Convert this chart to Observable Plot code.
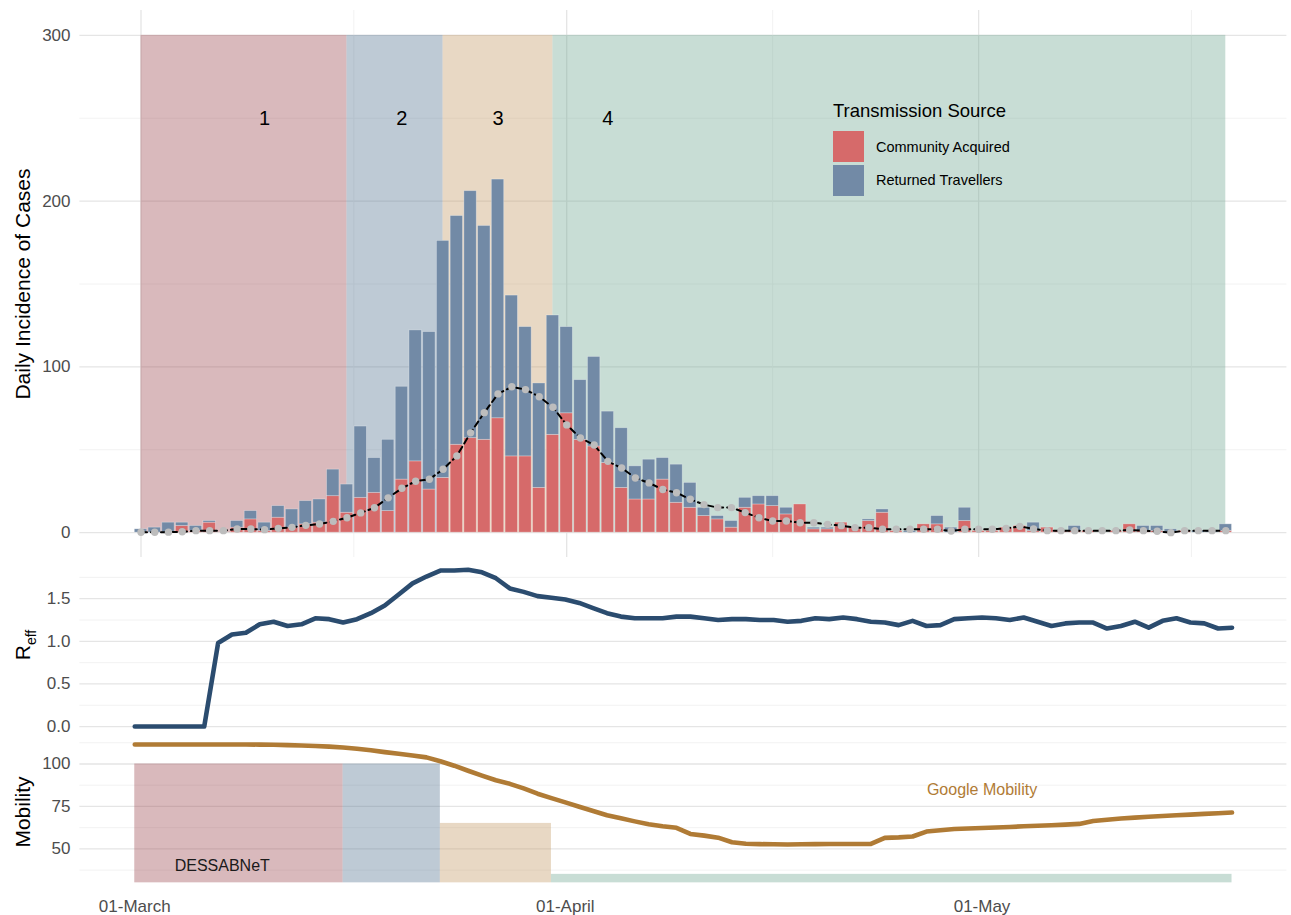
<!DOCTYPE html>
<html>
<head>
<meta charset="utf-8">
<script src="https://cdn.jsdelivr.net/npm/d3@7"></script>
<script src="https://cdn.jsdelivr.net/npm/@observablehq/plot@0.6"></script>
<style>
  html, body { margin: 0; padding: 0; background: #fff; }
  #wrap { position: relative; width: 1291px; height: 915px; font-family: "Liberation Sans", Arial, sans-serif; overflow: hidden; }
  .panel { position: absolute; left: 0; }
  .ytitle { position: absolute; transform: translate(-50%, -50%) rotate(-90deg); white-space: nowrap; color: #000; font-size: 21px; }
  .ytitle sub { font-size: 14px; }
  #legend { position: absolute; left: 833px; top: 100px; color: #000; }
  #legend .lt { font-size: 18.5px; margin-bottom: 8px; white-space: nowrap; }
  #legend .row { display: flex; align-items: center; height: 33.5px; }
  #legend .sw { width: 31px; height: 31px; margin-right: 12px; }
  #legend .lab { font-size: 14.5px; white-space: nowrap; }
</style>
</head>
<body>
<div id="wrap"></div>
<script>
// ---------------- data ----------------
const sources = ["Community Acquired", "Returned Travellers"];
const sourceColors = ["#D66A6A", "#728AA6"];

// daily cases, index 0 = 01-March
const communityAcquired = [0,0,0,4,1,6,0,3,8,1, 9,3,5,6,22,12,21,24,13,32, 43,26,33,53,57,56,69,46,46,27, 59,72,56,52,42,27,20,20,32,18, 15,10,8,3,15,17,16,11,17,2, 2,6,3,7,12,1,0,5,5,0, 7,1,1,3,4,1,3,1,1,1, 0,1,5,1,1,0,1,0,0,1];
const returnedTravellers = [2,3,6,2,3,1,0,4,5,5, 7,11,14,14,16,17,43,21,43,56, 79,95,143,138,149,129,144,97,78,63, 72,52,36,54,31,36,20,24,13,23, 15,5,2,4,6,5,6,4,0,1, 1,0,0,1,2,0,1,0,5,3, 8,0,0,0,0,5,0,0,3,0, 0,0,0,3,3,2,0,1,1,4];
const communityTrend = [0.2,0.2,0.3,0.5,1.2,1.2,1.2,2.2,2.2,1.8, 2.6,3.2,4.4,5.2,6.8,9,11.9,15,21,26.8, 31,32.2,38.2,46.3,60.2,72.4,83.7,88,86.3,82, 75.6,65,57.1,52.9,43,39,33,30,26,24.1, 20.1,16.9,15.1,15.1,12.1,9,7,7,6,6, 5,4.2,3,3,2,2,2,2,2,1, 2,2,2,2.5,3.8,2.2,1.2,1.2,1.2,1.2, 1.2,1.2,1.6,1.2,0.8,0,1.2,1.2,1.2,1.2];
const reff = [0,0,0,0,0,0,0.98,1.08,1.10,1.20, 1.23,1.18,1.20,1.27,1.26,1.22,1.26,1.33,1.42,1.55, 1.68,1.76,1.83,1.83,1.84,1.81,1.74,1.62,1.58,1.53, 1.51,1.49,1.45,1.39,1.33,1.29,1.27,1.27,1.27,1.29, 1.29,1.27,1.25,1.26,1.26,1.25,1.25,1.23,1.24,1.27, 1.26,1.28,1.26,1.23,1.22,1.19,1.24,1.18,1.19,1.26, 1.27,1.28,1.27,1.25,1.28,1.23,1.18,1.21,1.22,1.22, 1.15,1.18,1.23,1.16,1.24,1.27,1.22,1.21,1.15,1.16];
const googleMobility = [111.5,111.5,111.5,111.5,111.5,111.5,111.5,111.5,111.5,111.4, 111.3,111.1,110.9,110.6,110.2,109.7,109.0,108.1,107.0,106.0, 105.0,103.9,101.6,99.0,96.0,93.1,90.4,88.3,85.6,82.5, 79.9,77.4,74.8,72.3,69.8,68.0,66.2,64.5,63.3,62.4, 58.8,57.8,56.6,53.9,53.0,52.8,52.7,52.6,52.7,52.8, 52.9,52.9,52.9,52.9,56.5,56.8,57.3,60.2,61.0,61.7, 62.0,62.3,62.6,62.9,63.3,63.6,63.9,64.3,64.7,66.4, 67.2,67.9,68.4,68.9,69.4,69.8,70.2,70.6,71.0,71.4];

// phases (day index)
const phaseLabels = ["1", "2", "3", "4"];
const phaseStart = [0, 15, 22, 30];
const phaseEnd = [15, 22, 30, 79];
const phaseLabelDay = [9, 19, 26, 34];
const phaseColors = ["#A05058", "#5D7A96", "#C59E6B", "#76AA96"];
const phaseTop = 300;
const phaseLabelY = 250;
const dessabnetLevel = [100, 100, 65, 35];
const dessabnetBase = 30;

// ticks
const xTickDays = [0, 31, 61];
const xTickLabels = ["01-March", "01-April", "01-May"];
const xMinorDays = [15.5, 46, 76.5];
const incidenceTicks = [0, 100, 200, 300];
const incidenceMinor = [50, 150, 250];
const reffTicks = [0, 0.5, 1, 1.5];
const reffMinor = [0.25, 0.75, 1.25, 1.75];
const mobilityTicks = [50, 75, 100];
const mobilityMinor = [37.5, 62.5, 87.5, 112.5];

// annotations
const annoText = ["Google Mobility", "DESSABNeT"];
const annoDay = [61, 6.3];
const annoValue = [84.5, 40];
const annoColor = ["#B07B35", "#1a1a1a"];

// ---------------- build ----------------
const days = d3.range(communityAcquired.length);
const bars = days.map(d => ({
  day: d,
  c: communityAcquired[d],
  t: communityAcquired[d] + returnedTravellers[d]
}));
const trend = days.map(d => ({day: d, v: communityTrend[d]}));
const reffData = days.map(d => ({day: d, v: reff[d]}));
const mobData = days.map(d => ({day: d, v: googleMobility[d]}));
const phases = phaseLabels.map((l, i) => ({
  label: l, start: phaseStart[i], end: phaseEnd[i], lab: phaseLabelDay[i],
  color: phaseColors[i], level: dessabnetLevel[i]
}));

const W = 1291, ML = 79.4, MR = 4.6;
const FONT = '"Liberation Sans", Arial, sans-serif';
const majorGrid = {stroke: "#E5E5E5", strokeWidth: 1.3};
const minorGrid = {stroke: "#EFEFEF", strokeWidth: 0.8};
const baseStyle = {fontFamily: FONT, fontSize: "17px", color: "#4D4D4D", background: "transparent", overflow: "visible"};

const wrap = document.getElementById("wrap");

// ---- top panel: daily incidence ----
const topPlot = Plot.plot({
  width: W, height: 558, marginTop: 10, marginBottom: 1, marginLeft: ML, marginRight: MR,
  x: {domain: [-4.45, 83.45], axis: null},
  y: {domain: [-15, 315], axis: null},
  style: baseStyle,
  marks: [
    Plot.ruleY(incidenceMinor, minorGrid),
    Plot.ruleY(incidenceTicks, majorGrid),
    Plot.ruleX(xMinorDays, minorGrid),
    Plot.ruleX(xTickDays, majorGrid),
    ...phases.map(p => Plot.rect([p], {x1: "start", x2: "end", y1: 0, y2: phaseTop, fill: p.color, fillOpacity: 0.4})),
    Plot.rect(bars, {x1: d => d.day - 0.45, x2: d => d.day + 0.45, y1: 0, y2: "c", fill: sourceColors[0], stroke: "#fff", strokeOpacity: 0.35, strokeWidth: 0.8}),
    Plot.rect(bars.filter(b => b.t > b.c), {x1: d => d.day - 0.45, x2: d => d.day + 0.45, y1: "c", y2: "t", fill: sourceColors[1], stroke: "#fff", strokeOpacity: 0.35, strokeWidth: 0.8}),
    Plot.line(trend, {x: "day", y: "v", stroke: "#000", strokeWidth: 2, strokeDasharray: "6,4"}),
    Plot.dot(trend, {x: "day", y: "v", r: 3.7, fill: "#BDBDBD", stroke: "none"}),
    Plot.text(phases, {x: "lab", y: phaseLabelY, text: "label", fontSize: 20, fill: "#000"}),
    Plot.axisY(incidenceTicks, {tickSize: 0, tickPadding: 9.4, label: null, fontSize: 17})
  ]
});
topPlot.classList.add("panel");
topPlot.style.top = "0px";
wrap.appendChild(topPlot);

// ---- middle panel: Reff ----
const reffPlot = Plot.plot({
  width: W, height: 178, marginTop: 2, marginBottom: 2, marginLeft: ML, marginRight: MR,
  x: {domain: [-3.95, 82.95], axis: null},
  y: {domain: [-0.093, 1.948], axis: null},
  style: baseStyle,
  marks: [
    Plot.ruleY(reffMinor, minorGrid),
    Plot.ruleY(reffTicks, majorGrid),
    Plot.line(reffData, {x: "day", y: "v", stroke: "#2B4C6F", strokeWidth: 4.6, strokeLinejoin: "round"}),
    Plot.axisY(reffTicks, {tickSize: 0, tickPadding: 9.4, label: null, fontSize: 17, tickFormat: d3.format(".1f")})
  ]
});
reffPlot.classList.add("panel");
reffPlot.style.top = "558px";
wrap.appendChild(reffPlot);

// ---- bottom panel: mobility ----
const annos = annoText.map((t, i) => ({t, day: annoDay[i], v: annoValue[i], color: annoColor[i]}));
const mobPlot = Plot.plot({
  width: W, height: 179, marginTop: 1, marginBottom: 25.7, marginLeft: ML, marginRight: MR,
  x: {domain: [-3.95, 82.95]},
  y: {domain: [25.9, 115.6]},
  style: baseStyle,
  marks: [
    Plot.ruleY(mobilityMinor, minorGrid),
    Plot.ruleY(mobilityTicks, majorGrid),
    ...phases.map(p => Plot.rect([p], {x1: "start", x2: "end", y1: dessabnetBase, y2: "level", fill: p.color, fillOpacity: 0.4})),
    Plot.line(mobData, {x: "day", y: "v", stroke: "#B07B35", strokeWidth: 4.6, strokeLinejoin: "round"}),
    ...annos.map(a => Plot.text([a], {x: "day", y: "v", text: "t", fill: a.color, fontSize: 16})),
    Plot.axisY(mobilityTicks, {tickSize: 0, tickPadding: 9.4, label: null, fontSize: 17}),
    Plot.axisX(xTickDays, {tickSize: 0, tickPadding: 10, label: null, fontSize: 17, tickFormat: d => xTickLabels[xTickDays.indexOf(d)]})
  ]
});
mobPlot.classList.add("panel");
mobPlot.style.top = "736px";
wrap.appendChild(mobPlot);

// ---- axis titles ----
function addTitle(html, x, y) {
  const el = document.createElement("div");
  el.className = "ytitle";
  el.innerHTML = html;
  el.style.left = x + "px";
  el.style.top = y + "px";
  wrap.appendChild(el);
}
addTitle("Daily Incidence of Cases", 23, 284);
addTitle("R<sub>eff</sub>", 25, 645);
addTitle("Mobility", 23, 812);

// ---- legend ----
const lg = document.createElement("div");
lg.id = "legend";
lg.innerHTML = '<div class="lt">Transmission Source</div>' +
  sources.map((s, i) => `<div class="row"><div class="sw" style="background:${sourceColors[i]}"></div><div class="lab">${s}</div></div>`).join("");
wrap.appendChild(lg);
</script>
</body>
</html>
